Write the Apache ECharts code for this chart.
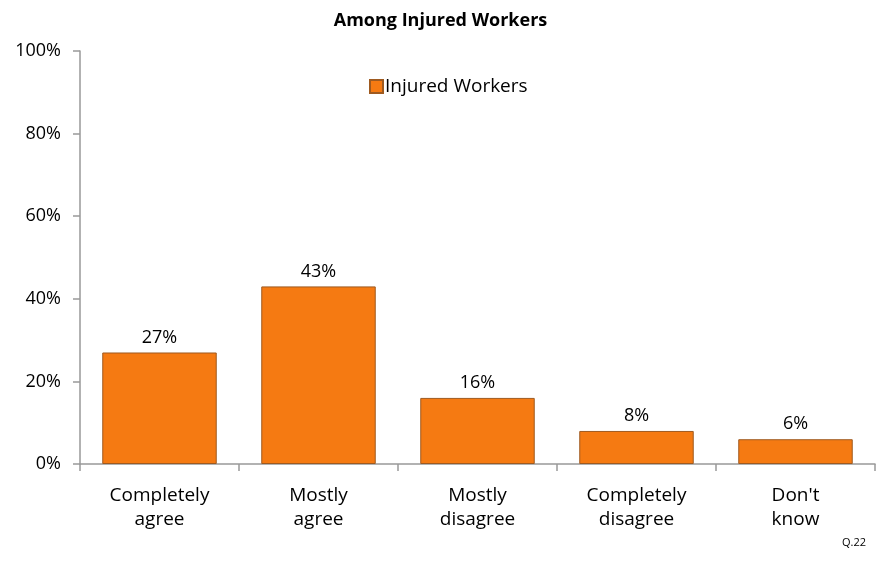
<!DOCTYPE html>
<html>
<head>
<meta charset="utf-8">
<script src="https://cdn.jsdelivr.net/npm/echarts@6/dist/echarts.min.js"></script>
<style>
  html, body { margin: 0; padding: 0; background: #fff; }
  #chart { width: 881px; height: 569px; }
</style>
</head>
<body>
<div id="chart"></div>
<script>
// Responses among injured workers
const categories = ['Completely\nagree', 'Mostly\nagree', 'Mostly\ndisagree', 'Completely\ndisagree', "Don't\nknow"];
const injuredWorkers = [27, 43, 16, 8, 6];
const yTicks = [0, 20, 40, 60, 80, 100];

const font = '"Open Sans", "Noto Sans", sans-serif';
const chart = echarts.init(document.getElementById('chart'));

chart.setOption({
  backgroundColor: '#ffffff',
  animation: false,
  title: [
    {
      text: 'Among Injured Workers',
      left: 'center',
      top: 7,
      textStyle: { fontFamily: font, fontSize: 18, fontWeight: 'bold', color: '#000' }
    },
    {
      text: 'Q.22',
      right: 10,
      top: 532,
      textStyle: { fontFamily: font, fontSize: 11, fontWeight: 'normal', color: '#000' }
    }
  ],
  legend: {
    data: ['Injured Workers'],
    icon: 'rect',
    left: 364,
    top: 72,
    itemWidth: 13,
    itemHeight: 13,
    itemGap: 4,
    textStyle: { fontFamily: font, fontSize: 19, color: '#000', padding: [0, 0, 0, -3] }
  },
  grid: { left: 80, right: 6, top: 51, bottom: 105 },
  xAxis: {
    type: 'category',
    data: categories,
    axisLine: { lineStyle: { color: '#999', width: 1.5 } },
    axisTick: { show: true, alignWithLabel: false, length: 7, lineStyle: { color: '#999', width: 1.5 } },
    axisLabel: { fontFamily: font, fontSize: 19, color: '#000', lineHeight: 24, margin: 20 }
  },
  yAxis: {
    type: 'value',
    min: yTicks[0],
    max: yTicks[yTicks.length - 1],
    interval: 20,
    splitLine: { show: false },
    axisLine: { show: true, lineStyle: { color: '#999', width: 1.5 } },
    axisTick: { show: true, length: 7, lineStyle: { color: '#999', width: 1.5 } },
    axisLabel: { fontFamily: font, fontSize: 18, color: '#000', margin: 19, formatter: v => v + '%' }
  },
  series: [{
    name: 'Injured Workers',
    type: 'bar',
    data: injuredWorkers,
    barCategoryGap: '28%',
    itemStyle: { color: '#F57A12', borderColor: '#9E5A20', borderWidth: 1 },
    label: {
      show: true,
      position: 'top',
      distance: 6,
      fontFamily: font,
      fontSize: 18,
      color: '#000',
      formatter: p => p.value + '%'
    }
  }]
});
</script>
</body>
</html>
